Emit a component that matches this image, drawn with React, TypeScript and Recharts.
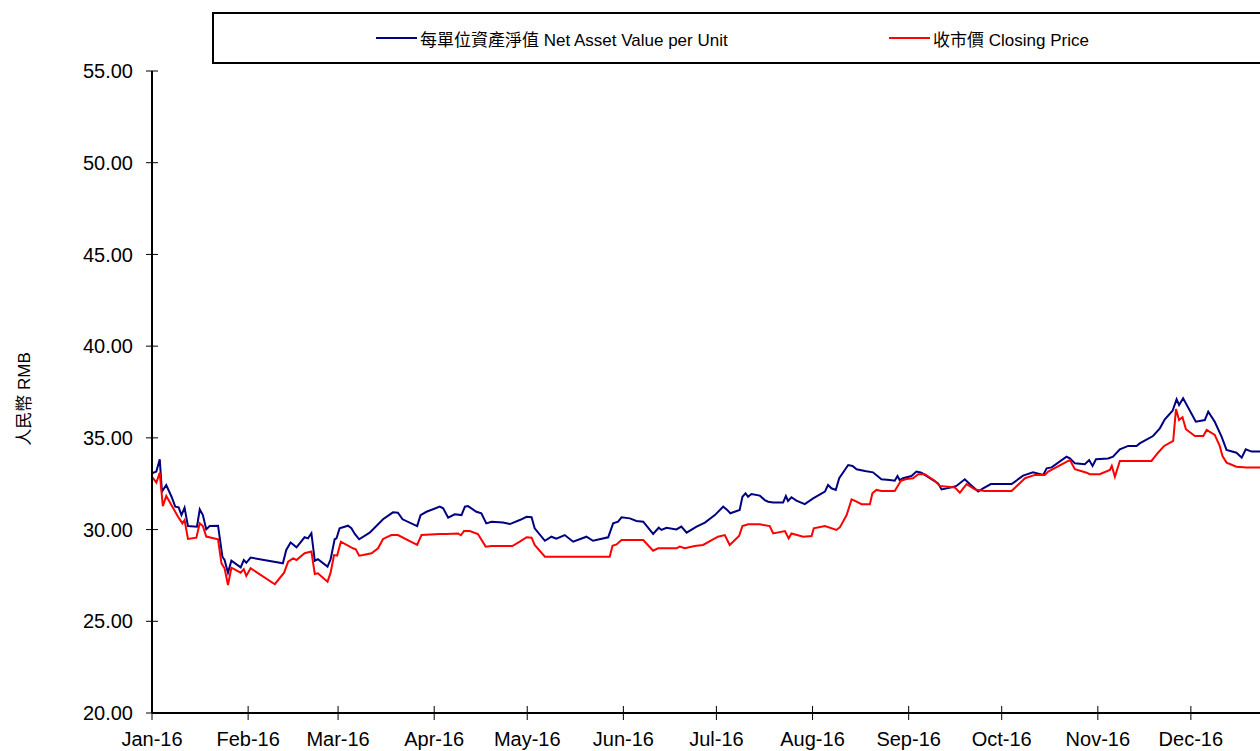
import React from "react";
import { LineChart, Line, XAxis, YAxis, Legend } from "recharts";

// x values are days counted from 1 Jan 2016
const monthTicks = [0, 31, 60, 91, 121, 152, 182, 213, 244, 274, 305, 335];
const monthLabels = ["Jan-16", "Feb-16", "Mar-16", "Apr-16", "May-16", "Jun-16", "Jul-16", "Aug-16", "Sep-16", "Oct-16", "Nov-16", "Dec-16"];
const priceTicks = [20, 25, 30, 35, 40, 45, 50, 55];
const seriesNames = ["每單位資產淨值 Net Asset Value per Unit", "收市價 Closing Price"];

const navSeries: [number, number][] = [
  [0, 33.07], [1.4, 33.16], [2.5, 33.83], [3.2, 32.07], [4.6, 32.43], [6.3, 31.79], [7.5, 31.25], [8.6, 31.21],
  [9.5, 30.79], [10.5, 31.19], [11.6, 30.19], [14.5, 30.16], [15.4, 31.1], [16.4, 30.79], [17.5, 30.01], [18.6, 30.19],
  [21.3, 30.21], [22.7, 28.52], [23.4, 28.34], [24.5, 27.65], [25.6, 28.3], [28.6, 27.94], [29.6, 28.34], [30.4, 28.19],
  [31.8, 28.47], [42.2, 28.16], [43.3, 28.89], [44.7, 29.29], [46.6, 29.03], [49.2, 29.58], [50.3, 29.52], [51.4, 29.8],
  [52.5, 28.3], [53.5, 28.38], [56.6, 27.98], [57.6, 28.38], [58.9, 29.47], [59.5, 29.52], [60.5, 30.07], [63.2, 30.21],
  [64.3, 30.07], [65.4, 29.76], [66.8, 29.47], [70.2, 29.83], [74.5, 30.56], [77.7, 30.94], [79.3, 30.92], [80.8, 30.56],
  [85.5, 30.19], [86.6, 30.79], [88.5, 30.97], [92.8, 31.25], [93.9, 31.16], [95.5, 30.65], [97.6, 30.83], [99.8, 30.79],
  [100.9, 31.25], [101.9, 31.28], [104.6, 30.97], [106.2, 30.89], [107.8, 30.34], [109.5, 30.43], [113.2, 30.39], [115.4, 30.3],
  [118.6, 30.52], [120.8, 30.7], [122.4, 30.67], [123.4, 30.07], [126.7, 29.39], [128.8, 29.61], [130.4, 29.5], [133.1, 29.7],
  [135.8, 29.34], [140.1, 29.61], [142.2, 29.39], [147.1, 29.58], [148.7, 30.34], [150.3, 30.43], [151.4, 30.67], [154.1, 30.61],
  [156.2, 30.47], [158.4, 30.43], [161.6, 29.76], [163.4, 30.1], [164.3, 29.98], [165.9, 30.1], [169.1, 30.01], [170.7, 30.16],
  [172.4, 29.83], [175.6, 30.16], [178.3, 30.38], [181.5, 30.79], [184.2, 31.25], [185.3, 31.1], [186.5, 30.89], [189.5, 31.07],
  [190.4, 31.79], [191.4, 31.98], [192.2, 31.79], [193.3, 31.94], [196, 31.85], [197.6, 31.61], [198.7, 31.52], [200.3, 31.47],
  [203.5, 31.47], [204.4, 31.83], [205.1, 31.56], [206.2, 31.76], [207.8, 31.58], [210.5, 31.39], [213.2, 31.7], [217, 32.07],
  [218, 32.43], [219.1, 32.25], [220.5, 32.16], [221.6, 32.8], [224.5, 33.52], [225.9, 33.47], [227.2, 33.29], [229.9, 33.19],
  [232.5, 33.12], [235.2, 32.74], [237.9, 32.7], [239.5, 32.66], [240.4, 32.92], [241.1, 32.7], [242.2, 32.8], [244.9, 32.92],
  [246.5, 33.16], [248.1, 33.1], [249.2, 32.98], [253.5, 32.52], [254.6, 32.19], [257.8, 32.3], [259.4, 32.38], [262.1, 32.74],
  [263.7, 32.48], [266.4, 32.07], [268, 32.25], [270.5, 32.48], [277.2, 32.48], [280.9, 32.94], [284.1, 33.12], [287.4, 32.98],
  [288.5, 33.34], [290.1, 33.39], [294.9, 33.97], [296, 33.88], [297.6, 33.61], [300.8, 33.56], [302.2, 33.79], [303.3, 33.47],
  [304.4, 33.83], [308.3, 33.88], [309.9, 33.97], [312.1, 34.38], [314.8, 34.56], [317.5, 34.56], [318.5, 34.7], [322.8, 35.1],
  [325, 35.52], [326.6, 36.01], [329.1, 36.48], [330.4, 37.1], [331.2, 36.79], [332.5, 37.16], [336.6, 35.88], [339.5, 35.97],
  [340.6, 36.43], [342.7, 35.88], [344.9, 35.07], [346.5, 34.34], [349.7, 34.19], [351.4, 33.92], [352.7, 34.38], [354.6, 34.25],
  [358, 34.25],
];

const closeSeries: [number, number][] = [
  [0, 32.88], [1.4, 32.56], [2.5, 33.1], [3.5, 31.28], [4.6, 31.83], [8.4, 30.7], [9.8, 30.34], [10.5, 30.52],
  [11.6, 29.49], [14.3, 29.56], [15.4, 30.34], [16.4, 30.19], [17.5, 29.62], [21.3, 29.47], [22.4, 28.16], [23.4, 27.89],
  [24.5, 26.98], [25.6, 27.92], [28.6, 27.65], [29.6, 27.84], [30.4, 27.47], [31.8, 27.89], [39.6, 27.02], [42.6, 27.65],
  [43.9, 28.25], [45.5, 28.43], [46.6, 28.34], [49.2, 28.71], [51.4, 28.8], [52.5, 27.58], [53.5, 27.62], [56.6, 27.16],
  [57.6, 27.65], [58.7, 28.61], [59.7, 28.58], [60.9, 29.34], [64.8, 28.98], [65.7, 28.92], [66.8, 28.58], [68.1, 28.61],
  [70.8, 28.71], [72.9, 28.98], [74.5, 29.49], [77.2, 29.7], [79.3, 29.7], [85.5, 29.16], [86.9, 29.7], [92.8, 29.76],
  [94.9, 29.76], [98.7, 29.79], [99.6, 29.69], [100.6, 29.92], [102.5, 29.92], [105.1, 29.76], [107.6, 29.07], [109.5, 29.1],
  [116.2, 29.1], [118.6, 29.34], [120.8, 29.58], [122.4, 29.56], [123.4, 29.16], [126.7, 28.52], [147.6, 28.52], [148.5, 29.12],
  [149.8, 29.19], [151.4, 29.43], [158.4, 29.43], [161.6, 28.85], [163.2, 28.98], [169.1, 28.98], [170.2, 29.07], [171.8, 28.98],
  [175, 29.1], [177.7, 29.16], [182.5, 29.61], [184.7, 29.7], [186.3, 29.16], [189.3, 29.65], [190.4, 30.19], [192.2, 30.29],
  [196, 30.29], [199.2, 30.19], [200.3, 29.79], [204.1, 29.92], [205.3, 29.52], [206.2, 29.79], [210, 29.61], [212.7, 29.65],
  [213.4, 30.07], [217, 30.19], [220.7, 29.98], [221.8, 30.12], [224, 30.79], [225.6, 31.65], [227.2, 31.52], [228.8, 31.38],
  [231.5, 31.38], [232.3, 31.98], [233.6, 32.16], [235.2, 32.1], [239.5, 32.1], [241.5, 32.66], [243.3, 32.76], [245.4, 32.8],
  [247.1, 33.02], [249.2, 33.02], [252.4, 32.66], [254, 32.38], [258.9, 32.3], [260.5, 32.01], [262.7, 32.48], [265.3, 32.19],
  [268.5, 32.1], [277.2, 32.1], [281.5, 32.8], [284.7, 32.98], [287.9, 32.98], [289, 33.16], [294.4, 33.65], [296, 33.79],
  [297.6, 33.29], [301.4, 33.1], [302.4, 33.02], [305.6, 33.02], [308.9, 33.25], [309.5, 33.47], [310.5, 32.88], [312.1, 33.74],
  [322.3, 33.74], [324.4, 34.19], [326.4, 34.56], [329.3, 34.83], [330.2, 36.57], [331.2, 35.97], [332.3, 36.12], [333.4, 35.47],
  [336.3, 35.1], [339, 35.1], [340.1, 35.43], [342.7, 35.16], [344.3, 34.56], [345.2, 34.01], [346.5, 33.65], [349.7, 33.43],
  [352.9, 33.39], [358, 33.38],
];

const toRows = (series: [number, number][]) => series.map(([day, value]) => ({ day, value }));

const font = "Arial, 'Liberation Sans', 'Noto Sans CJK TC', sans-serif";

function MonthTick({ x, y, payload }: any) {
  // y arrives as axis + tickSize(7) + tickMargin(11)
  const axisY = y - 18;
  const label = monthLabels[monthTicks.indexOf(payload.value)];
  return (
    <g>
      <line x1={x} x2={x} y1={axisY - 7} y2={axisY + 7} stroke="#000" />
      <text x={x} y={axisY + 33} textAnchor="middle" fontSize={20} fontFamily={font} fill="#000">
        {label}
      </text>
    </g>
  );
}

function PriceTick({ x, y, payload }: any) {
  // x arrives as axis - tickSize(6) - tickMargin(13)
  const axisX = x + 19;
  return (
    <g>
      <line x1={axisX - 6} x2={axisX + 6} y1={y} y2={y} stroke="#000" />
      <text x={x} y={y} dy="0.36em" textAnchor="end" fontSize={20} fontFamily={font} fill="#000">
        {Number(payload.value).toFixed(2)}
      </text>
    </g>
  );
}

function AxisTitle({ viewBox }: any) {
  const cx = viewBox.x + 24;
  const cy = viewBox.y + viewBox.height / 2 + 7;
  return (
    <text
      x={cx}
      y={cy}
      dy="0.36em"
      transform={`rotate(-90, ${cx}, ${cy})`}
      textAnchor="middle"
      fontSize={17}
      fontFamily={font}
      fill="#000"
    >
      人民幣 RMB
    </text>
  );
}

function LegendBox({ payload }: any) {
  const items = [...(payload || [])].sort((a: any, b: any) => seriesNames.indexOf(a.value) - seriesNames.indexOf(b.value));
  return (
    <div style={{ display: "flex", alignItems: "center", height: "100%", paddingLeft: 162, fontFamily: font, fontSize: 17, color: "#000" }}>
      {items.map((entry: any) => (
        <div key={entry.value} style={{ width: 513, flexShrink: 0, display: "flex", alignItems: "center", whiteSpace: "nowrap" }}>
          <span style={{ display: "inline-block", width: 41, height: 2, background: entry.color, marginRight: 3 }} />
          {entry.value}
        </div>
      ))}
    </div>
  );
}

export default function App() {
  return (
    <div style={{ position: "absolute", left: 0, top: 0, width: 1260, height: 751, overflow: "hidden", background: "#fff" }}>
      <LineChart width={1300} height={751} margin={{ top: 71, right: 13, bottom: 0, left: 0 }}>
        <XAxis
          dataKey="day"
          type="number"
          domain={[0, 366]}
          ticks={monthTicks}
          interval={0}
          height={38}
          tickSize={7}
          tickMargin={11}
          tickLine={false}
          axisLine={{ stroke: "#000", strokeWidth: 2 }}
          tick={<MonthTick />}
        />
        <YAxis
          type="number"
          domain={[20, 55]}
          ticks={priceTicks}
          interval={0}
          width={152}
          tickSize={6}
          tickMargin={13}
          tickLine={false}
          axisLine={{ stroke: "#000", strokeWidth: 2 }}
          tick={<PriceTick />}
          label={<AxisTitle />}
        />
        <Legend
          layout="horizontal"
          verticalAlign="middle"
          align="center"
          content={<LegendBox />}
          wrapperStyle={{ top: 12, left: 212, width: 1100, height: 52, border: "2px solid #000", boxSizing: "border-box", background: "#fff", overflow: "hidden" }}
        />
        <Line
          data={toRows(navSeries)}
          dataKey="value"
          name={seriesNames[0]}
          type="linear"
          stroke="#000080"
          strokeWidth={2}
          dot={false}
          isAnimationActive={false}
        />
        <Line
          data={toRows(closeSeries)}
          dataKey="value"
          name={seriesNames[1]}
          type="linear"
          stroke="#ff0000"
          strokeWidth={2}
          dot={false}
          isAnimationActive={false}
        />
      </LineChart>
    </div>
  );
}
